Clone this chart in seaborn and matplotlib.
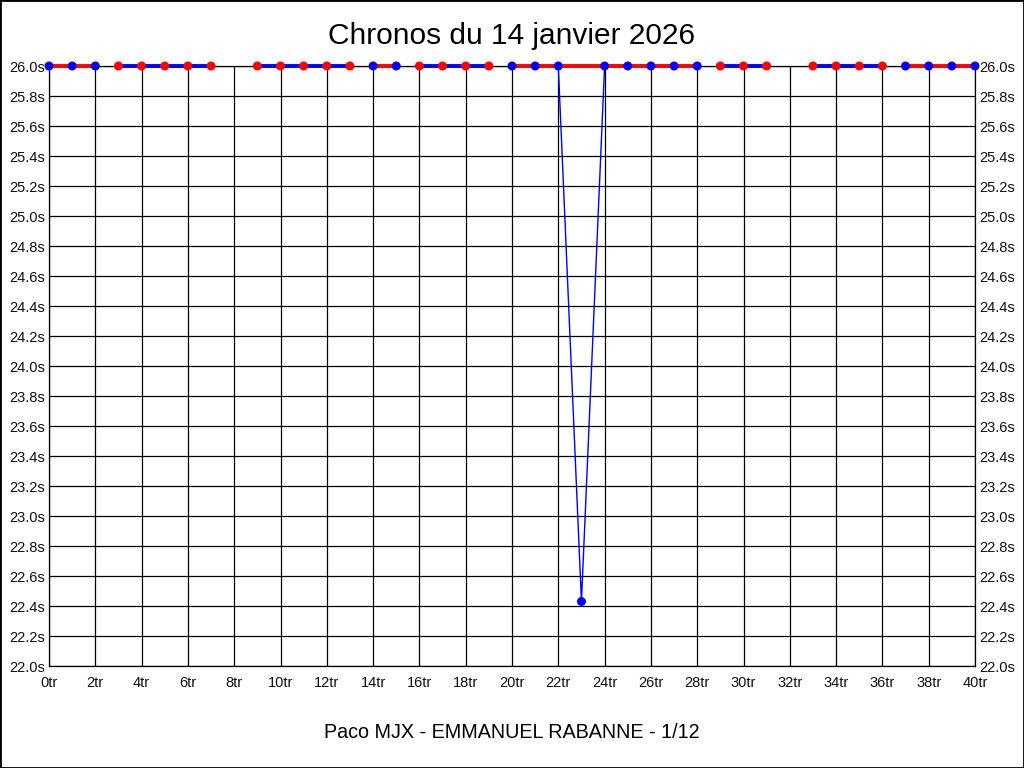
import numpy as np
import pandas as pd
import matplotlib
matplotlib.use("Agg")
import matplotlib.pyplot as plt
import seaborn as sns
from matplotlib.patches import Rectangle


# lap times (s); laps above the 26 s ceiling are shown at 26.0, NaN = no lap recorded
laps = list(range(0, 41))
lap_times = [26.0] * 41
lap_times[8] = np.nan
lap_times[32] = np.nan
lap_times[23] = 22.43

# stints: first lap, last lap, colour of the stint line
stint_starts = [0, 3, 9, 14, 16, 20, 29, 33, 37]
stint_ends = [2, 7, 13, 15, 19, 28, 31, 36, 40]
stint_colors = ["red", "blue", "blue", "red", "blue", "red", "blue", "blue", "red"]

title = "Chronos du 14 janvier 2026"
footer = "Paco MJX - EMMANUEL RABANNE - 1/12"
y_min, y_max = 22.0, 26.0
y_ticks = np.arange(220, 261, 2) / 10
x_ticks = list(range(0, 41, 2))


rows = []
for i, (s, e, c) in enumerate(zip(stint_starts, stint_ends, stint_colors)):
    for lap in range(s, e + 1):
        t = lap_times[lap]
        if np.isnan(t):
            continue
        rows.append({
            "lap": lap,
            "time": min(t, y_max),
            "stint": i,
            "line_color": c,
            "marker_color": "blue" if c == "red" else "red",
        })
df = pd.DataFrame(rows)
df["band"] = y_max

sns.set_style("white")
plt.rcParams["font.family"] = ["Liberation Sans", "DejaVu Sans"]
plt.rcParams["text.color"] = "black"

fig = plt.figure(figsize=(10.24, 7.68), dpi=100)
ax = fig.add_axes([49 / 1024, 1 - 666 / 768, 926 / 1024, 600 / 768])

palette = {"red": "#ff0000", "blue": "#0000ff"}

for i in df["stint"].unique():
    st = df[df["stint"] == i]
    # thin line with the real lap times
    sns.lineplot(data=st, x="lap", y="time", color="#0000ff", lw=1.0, ax=ax,
                 estimator=None, legend=False, zorder=3, clip_on=False)
    # thick stint band along the top
    sns.lineplot(data=st, x="lap", y="band", color=palette[st["line_color"].iloc[0]],
                 lw=2.8, ax=ax, estimator=None, legend=False, zorder=4,
                 clip_on=False)

sns.scatterplot(data=df, x="lap", y="time", hue="marker_color", palette=palette,
                s=42, edgecolor="none", ax=ax, legend=False, zorder=5,
                clip_on=False)

ax.set_xlim(0, 40)
ax.set_ylim(y_min, y_max)
ax.set_xticks(x_ticks)
ax.set_xticklabels([f"{x}tr" for x in x_ticks])
ax.set_yticks(y_ticks)
ax.set_yticklabels([f"{y:.1f}s" for y in y_ticks])
ax.tick_params(axis="both", length=0, labelsize=10.5, colors="#111111")
ax.tick_params(axis="x", pad=7)
ax.tick_params(axis="y", pad=3, labelright=True)
ax.grid(True, color="black", lw=0.9)
ax.set_axisbelow(True)
for sp in ax.spines.values():
    sp.set_color("black")
    sp.set_linewidth(0.9)
ax.set_xlabel("")
ax.set_ylabel("")

fig.text(0.5, 1 - 36 / 768, title, ha="center", va="center", fontsize=21.5,
         color="black")
fig.text(0.5, 1 - 733 / 768, footer, ha="center", va="center", fontsize=14.2,
         color="black")
fig.add_artist(Rectangle((0, 0), 1, 1, transform=fig.transFigure, fill=False,
                         edgecolor="black", lw=2))

fig.savefig("out.png", dpi=100, facecolor="white")
